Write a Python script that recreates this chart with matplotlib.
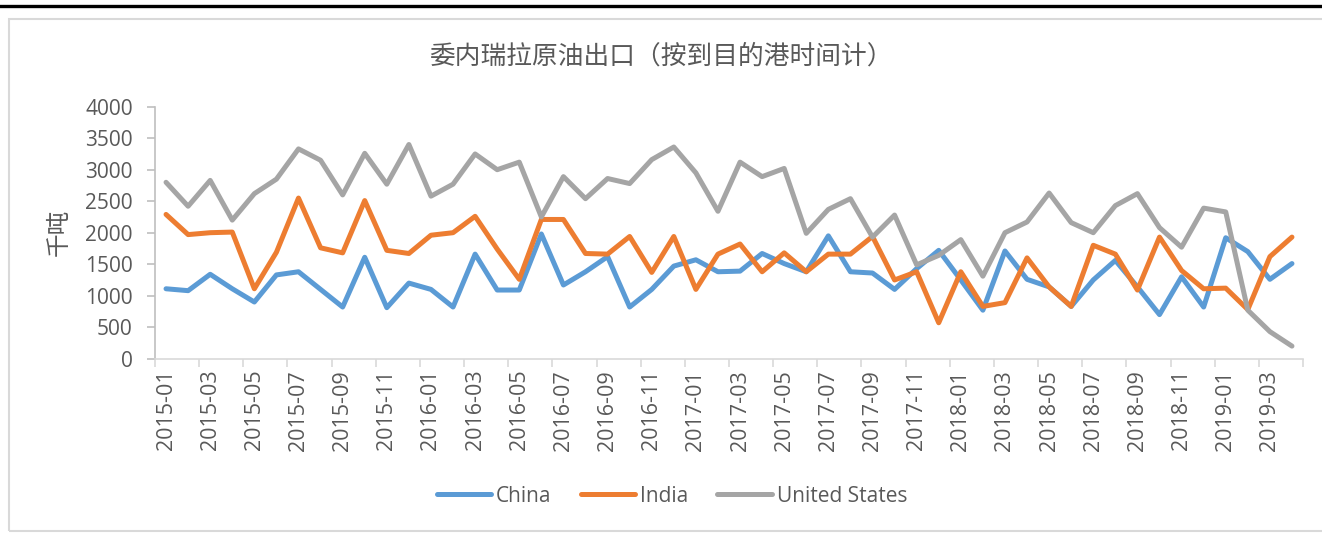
import matplotlib
matplotlib.use("Agg")
import matplotlib.pyplot as plt
from matplotlib.lines import Line2D
from matplotlib.patches import Rectangle

months = [f"{y}-{m:02d}" for y in range(2015, 2020) for m in range(1, 13)][:52]

china = [1110, 1080, 1340, 1110, 900, 1330, 1380, 1100, 820, 1610, 810, 1200,
         1100, 820, 1660, 1090, 1090, 1980, 1170, 1380, 1620, 820, 1100, 1470,
         1570, 1380, 1390, 1670, 1510, 1380, 1950, 1380, 1360, 1100, 1430, 1720,
         1250, 770, 1710, 1260, 1140, 830, 1250, 1560, 1140, 700, 1300, 820,
         1920, 1700, 1260, 1510]
india = [2290, 1970, 2000, 2010, 1110, 1690, 2550, 1760, 1680, 2510, 1720, 1670,
         1960, 2000, 2260, 1740, 1260, 2210, 2210, 1670, 1660, 1940, 1370, 1940,
         1100, 1660, 1820, 1380, 1680, 1380, 1660, 1660, 1940, 1250, 1380, 570,
         1380, 830, 890, 1600, 1140, 830, 1800, 1660, 1090, 1930, 1400, 1110,
         1120, 780, 1620, 1930]
usa = [2800, 2420, 2830, 2200, 2620, 2850, 3330, 3150, 2600, 3260, 2770, 3400,
       2580, 2770, 3250, 3000, 3120, 2250, 2890, 2540, 2860, 2780, 3160, 3360,
       2950, 2340, 3120, 2890, 3020, 1990, 2370, 2540, 1930, 2280, 1490, 1640,
       1890, 1310, 2000, 2170, 2630, 2160, 2000, 2430, 2620, 2080, 1770, 2390,
       2330, 770, 430, 200]

series = [("China", china, "#5B9BD5"),
          ("India", india, "#ED7D31"),
          ("United States", usa, "#A5A5A5")]

txt = "#595959"
plt.rcParams["font.family"] = ["Open Sans", "Noto Sans CJK SC", "DejaVu Sans"]

fig = plt.figure(figsize=(13.22, 5.38), dpi=100)
ax = fig.add_axes([155 / 1322, 1 - 358.7 / 538, 1148 / 1322, 252 / 538])

x = list(range(len(months)))
for name, vals, col in series:
    ax.plot(x, vals, color=col, lw=3.6, label=name, solid_joinstyle="round",
            solid_capstyle="round")

ax.set_xlim(-0.5, len(months) - 0.5)
ax.set_ylim(0, 4000)
ax.set_yticks(range(0, 4001, 500))
ax.set_xticks(x[::2])
ax.set_xticklabels(months[::2], rotation=90, fontsize=15.5, color=txt)
ax.set_xticks([i - 0.5 for i in range(0, len(months) + 1, 2)], minor=True)
ax.tick_params(axis="x", which="major", length=0, pad=8)
ax.tick_params(axis="x", which="minor", length=6, color="#d9d9d9", width=1.2)
ax.tick_params(axis="y", length=6, color="#bfbfbf", width=1.2, labelsize=15,
               labelcolor=txt, pad=10)

for s in ("top", "right"):
    ax.spines[s].set_visible(False)
ax.spines["left"].set_color("#bfbfbf")
ax.spines["left"].set_linewidth(1.2)
ax.spines["bottom"].set_color("#d9d9d9")
ax.spines["bottom"].set_linewidth(1.2)

ax.set_ylabel("千吨", family=["Noto Sans CJK SC", "DejaVu Sans"], fontsize=17,
              color=txt, labelpad=10, fontweight="light")

fig.text(0.5, 1 - 57 / 538, "委内瑞拉原油出口（按到目的港时间计）",
         family=["Noto Sans CJK SC", "DejaVu Sans"], fontsize=18.5,
         fontweight="light", color=txt, ha="center", va="center")

ax.legend(loc="center", bbox_to_anchor=(672 / 1322, 1 - 496 / 538),
          bbox_transform=fig.transFigure, frameon=False, ncol=3, fontsize=15,
          labelcolor=txt, handlelength=2.6, handletextpad=0.25,
          columnspacing=1.4)

fig.add_artist(Line2D([0, 1], [1 - 6 / 538, 1 - 6 / 538], color="black", lw=2.4,
                      transform=fig.transFigure))
fig.add_artist(Rectangle((8.5 / 1322, 1 - 531 / 538), 1.01, (531 - 18.5) / 538,
                         transform=fig.transFigure, fill=False,
                         edgecolor="#d9d9d9", lw=1.5))

fig.savefig("out.png", dpi=100)
